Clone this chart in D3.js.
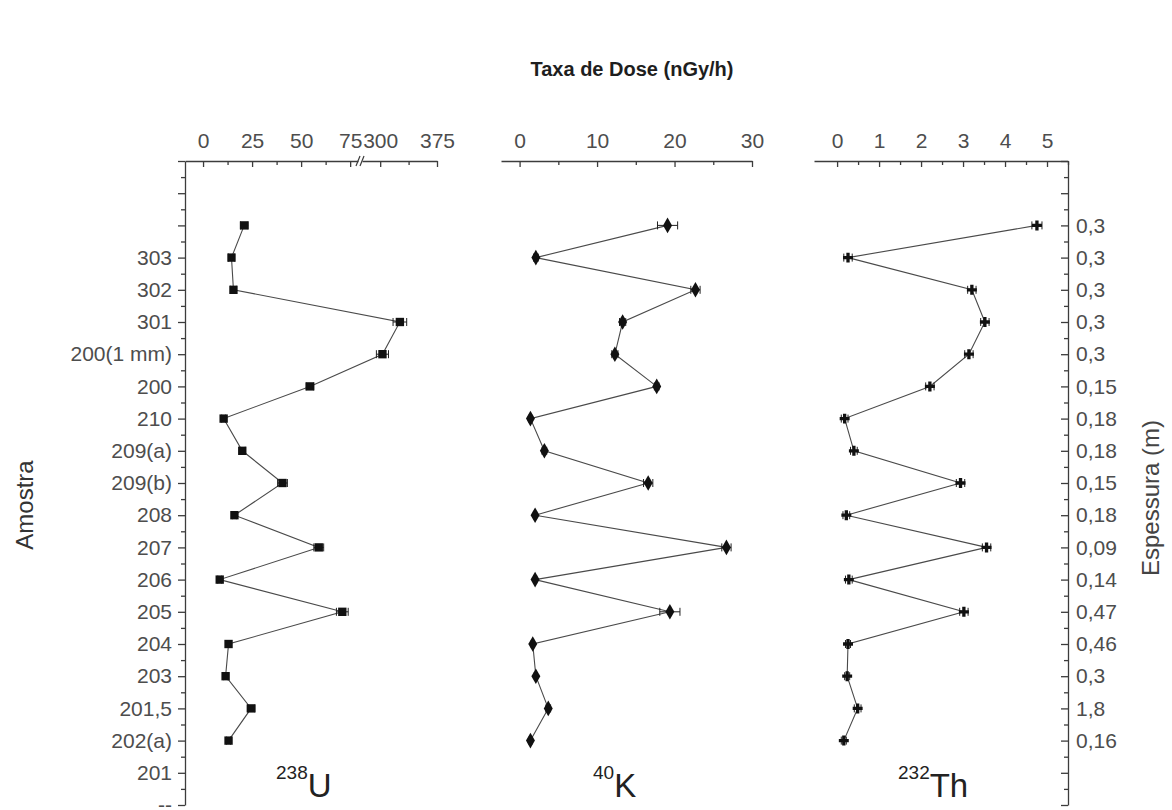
<!DOCTYPE html>
<html>
<head>
<meta charset="utf-8">
<script src="https://cdn.jsdelivr.net/npm/d3@7"></script>
<style>
  body { margin: 0; background: #fff; }
  svg { display: block; font-family: "Liberation Sans", Arial, sans-serif; }
  .axis path, .axis line { stroke: #3c3c3c; stroke-width: 1.3; }
  .axis text { fill: #4d4d4d; font-size: 21px; font-family: "Liberation Sans", Arial, sans-serif; }
</style>
</head>
<body>
<div id="chart"></div>
<script>
// Sample names on the left axis (drawn one step below each data row, as in the original)
const sampleLabels = ["303", "302", "301", "200(1 mm)", "200", "210", "209(a)", "209(b)", "208",
  "207", "206", "205", "204", "203", "201,5", "202(a)", "201", "--"];
// Layer thickness on the right axis, one per data row
const thickness = ["0,3", "0,3", "0,3", "0,3", "0,3", "0,15", "0,18", "0,18", "0,15", "0,18",
  "0,09", "0,14", "0,47", "0,46", "0,3", "1,8", "0,16"];

// Dose rate (nGy/h) per row, top to bottom
const u238 = [21, 14.5, 15.5, 326, 303, 54.5, 10.5, 20, 40.5, 16, 59, 8.5, 71, 13, 11.5, 24.5, 13];
const u238Err = [2, 1.5, 1.5, 9, 8, 2, 1, 1.5, 2.5, 1, 2.5, 1, 3, 1, 1, 2, 1];
const k40 = [19.1, 2.1, 22.7, 13.3, 12.3, 17.7, 1.4, 3.2, 16.6, 2.0, 26.7, 2.0, 19.4, 1.7, 2.1, 3.7, 1.4];
const k40Err = [1.3, 0.3, 0.6, 0.4, 0.4, 0.3, 0.2, 0.3, 0.6, 0.2, 0.6, 0.2, 1.3, 0.2, 0.2, 0.3, 0.2];
const th232 = [4.76, 0.26, 3.21, 3.52, 3.14, 2.21, 0.18, 0.40, 2.94, 0.22, 3.56, 0.28, 3.02, 0.26, 0.24, 0.49, 0.16];
const th232Err = [0.12, 0.1, 0.1, 0.1, 0.1, 0.1, 0.08, 0.08, 0.1, 0.08, 0.1, 0.08, 0.1, 0.06, 0.06, 0.08, 0.06];

const width = 1172, height = 810;
const axisTop = 161, axisBottom = 805;

const svg = d3.select("#chart")
  .append("svg")
  .attr("width", width)
  .attr("height", height);

// Rows share one vertical scale: row index -2 at the top axis, 18 at the bottom
const y = d3.scaleLinear().domain([-2, 18]).range([axisTop, axisBottom]);
const rows = d3.range(thickness.length);

// U panel has a broken axis: 0..75 then 300..375
const uLow = d3.scaleLinear().domain([-9.2, 79]).range([185, 358]);
const uHigh = d3.scaleLinear().domain([276, 375]).range([362, 437]);
const uX = v => v < 200 ? uLow(v) : uHigh(v);
const kX = d3.scaleLinear().domain([-2.4, 30]).range([501, 752]);
const thX = d3.scaleLinear().domain([-0.55, 5.5]).range([814, 1068]);

// Top axes: major ticks with labels, minor ticks shorter, all pointing inward
function topAxis(scale, major, minor) {
  svg.append("g").attr("class", "axis")
    .attr("transform", `translate(0,${axisTop})`)
    .call(d3.axisTop(scale).tickValues(major).tickSizeInner(-6).tickSizeOuter(0).tickPadding(13)
      .tickFormat(d3.format("d")));
  svg.append("g").attr("class", "axis")
    .attr("transform", `translate(0,${axisTop})`)
    .call(d3.axisTop(scale).tickValues(minor).tickSizeInner(-4).tickSizeOuter(0).tickFormat(""))
    .select(".domain").remove();
}
topAxis(uLow, [0, 25, 50, 75], [12.5, 37.5, 62.5]);
topAxis(uHigh, [300, 375], [337.5]);
topAxis(kX, [0, 10, 20, 30], [5, 15, 25]);
topAxis(thX, [0, 1, 2, 3, 4, 5], [0.5, 1.5, 2.5, 3.5, 4.5, 5.5]);

// Axis break marks on the U axis
svg.append("g")
  .attr("stroke", "#3c3c3c")
  .attr("stroke-width", 1.2)
  .selectAll("line")
  .data([358, 362])
  .join("line")
  .attr("x1", d => d - 2).attr("y1", axisTop + 5)
  .attr("x2", d => d + 2).attr("y2", axisTop - 5);

// Left axis: sample names
const majorRows = d3.range(-2, 19);
const minorRows = d3.range(-1.5, 18, 1);
svg.append("g").attr("class", "axis")
  .attr("transform", "translate(185,0)")
  .call(d3.axisLeft(y).tickValues(majorRows).tickSizeInner(7).tickSizeOuter(0).tickPadding(6)
    .tickFormat(d => d >= 1 ? sampleLabels[d - 1] : ""));
svg.append("g").attr("class", "axis")
  .attr("transform", "translate(185,0)")
  .call(d3.axisLeft(y).tickValues(minorRows).tickSizeInner(4).tickSizeOuter(0).tickFormat(""))
  .select(".domain").remove();

// Right axis: thickness, ticks pointing inward
svg.append("g").attr("class", "axis")
  .attr("transform", "translate(1068,0)")
  .call(d3.axisRight(y).tickValues(majorRows).tickSizeInner(-7).tickSizeOuter(0).tickPadding(8)
    .tickFormat(d => d >= 0 && d < thickness.length ? thickness[d] : ""));
svg.append("g").attr("class", "axis")
  .attr("transform", "translate(1068,0)")
  .call(d3.axisRight(y).tickValues(minorRows).tickSizeInner(-4).tickSizeOuter(0).tickFormat(""))
  .select(".domain").remove();

// Series: line, error bars, markers
function series(values, errs, xf, symbol, size) {
  const g = svg.append("g");
  g.append("path")
    .datum(rows)
    .attr("fill", "none")
    .attr("stroke", "#4a4a4a")
    .attr("stroke-width", 1.1)
    .attr("d", d3.line().x(i => xf(values[i])).y(i => y(i)));

  const eb = g.append("g").attr("stroke", "#222").attr("stroke-width", 1);
  eb.selectAll("line.bar").data(rows).join("line").attr("class", "bar")
    .attr("x1", i => xf(values[i] - errs[i])).attr("x2", i => xf(values[i] + errs[i]))
    .attr("y1", i => y(i)).attr("y2", i => y(i));
  eb.selectAll("line.capl").data(rows).join("line").attr("class", "capl")
    .attr("x1", i => xf(values[i] - errs[i])).attr("x2", i => xf(values[i] - errs[i]))
    .attr("y1", i => y(i) - 4).attr("y2", i => y(i) + 4);
  eb.selectAll("line.capr").data(rows).join("line").attr("class", "capr")
    .attr("x1", i => xf(values[i] + errs[i])).attr("x2", i => xf(values[i] + errs[i]))
    .attr("y1", i => y(i) - 4).attr("y2", i => y(i) + 4);

  g.selectAll("path.mark").data(rows).join("path").attr("class", "mark")
    .attr("transform", i => `translate(${xf(values[i])},${y(i)})`)
    .attr("d", d3.symbol().type(symbol).size(size))
    .attr("fill", "#111");
}
series(u238, u238Err, uX, d3.symbolSquare, 70);
series(k40, k40Err, kX, d3.symbolDiamond, 70);
series(th232, th232Err, thX, d3.symbolCross, 55);

// Titles
svg.append("text")
  .attr("x", 632).attr("y", 76)
  .attr("text-anchor", "middle")
  .attr("font-size", 20).attr("font-weight", "bold").attr("fill", "#1e1e1e")
  .text("Taxa de Dose (nGy/h)");

svg.append("text")
  .attr("transform", "translate(33,505) rotate(-90)")
  .attr("text-anchor", "middle")
  .attr("font-size", 24).attr("fill", "#333")
  .text("Amostra");

svg.append("text")
  .attr("transform", "translate(1159,498) rotate(-90)")
  .attr("text-anchor", "middle")
  .attr("font-size", 24).attr("fill", "#444")
  .text("Espessura (m)");

// Isotope labels with superscript mass numbers
const isotopes = [
  { mass: "238", sym: "U", x: 276 },
  { mass: "40", sym: "K", x: 593 },
  { mass: "232", sym: "Th", x: 898 }
];
isotopes.forEach(d => {
  const t = svg.append("text").attr("x", d.x).attr("y", 797).attr("fill", "#222");
  t.append("tspan").attr("font-size", 19).attr("dy", -18).text(d.mass);
  t.append("tspan").attr("font-size", 33).attr("dy", 18).text(d.sym);
});
</script>
</body>
</html>
